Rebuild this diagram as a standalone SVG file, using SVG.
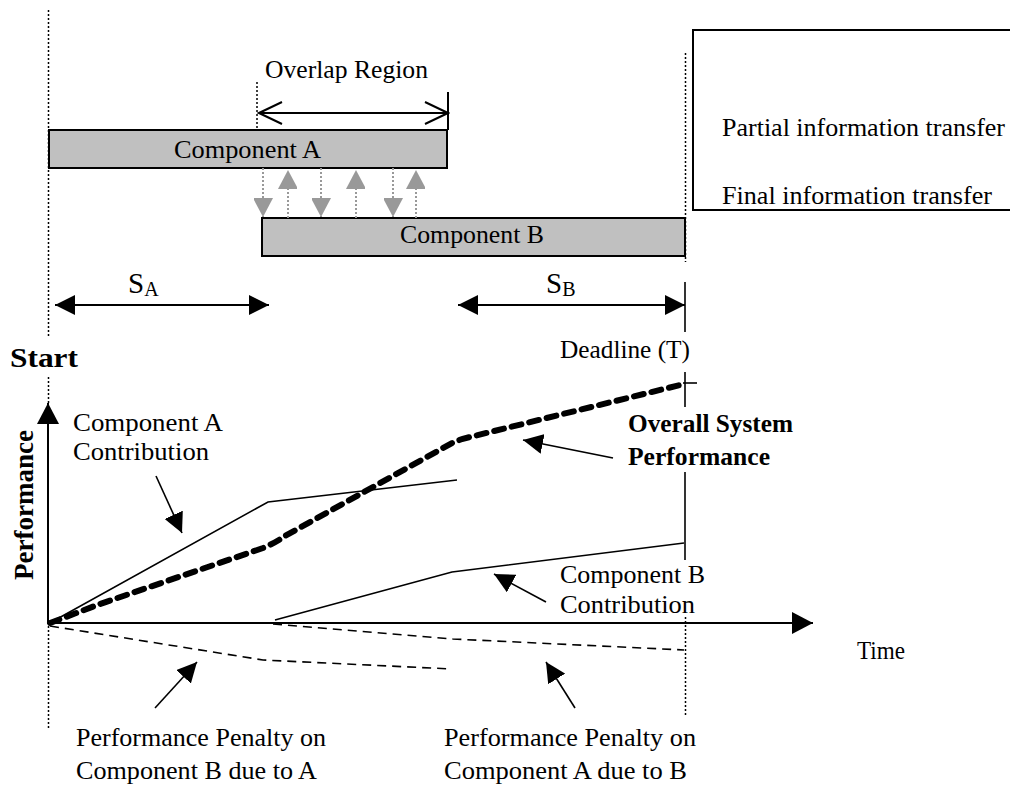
<svg xmlns="http://www.w3.org/2000/svg" width="1010" height="791" viewBox="0 0 1010 791" font-family="'Liberation Serif', 'Times New Roman', Times, serif">
<style>
text{font-family:'Liberation Serif','Times New Roman',Times,serif;font-size:26px;fill:#000}
.b{font-weight:bold}
.box{fill:#c0c0c0;stroke:#000;stroke-width:2}
.dot{stroke:#000;stroke-width:1.5;stroke-dasharray:2 2;fill:none}
.ln{stroke:#000;stroke-width:1.6;fill:none}
.ax{stroke:#000;stroke-width:2;fill:none}
.pen{stroke:#000;stroke-width:1.6;fill:none;stroke-dasharray:9 6}
.gr{stroke:#999;stroke-width:2;stroke-dasharray:2 2;fill:none}
.sys{stroke:#000;stroke-width:6;fill:none;stroke-linecap:round;stroke-dasharray:10 8}
</style>
<defs>
<marker id="ah" viewBox="0 0 20 20" refX="20" refY="10" markerWidth="20" markerHeight="20" markerUnits="userSpaceOnUse" orient="auto-start-reverse"><path d="M0,0 L20,10 L0,20 z" fill="#000"/></marker>
<marker id="axh" viewBox="0 0 21 22" refX="21" refY="11" markerWidth="21" markerHeight="22" markerUnits="userSpaceOnUse" orient="auto"><path d="M0,0 L21,11 L0,22 z" fill="#000"/></marker>
<marker id="oh" viewBox="-2 -2 27 26" refX="23" refY="11" markerWidth="27" markerHeight="26" markerUnits="userSpaceOnUse" orient="auto-start-reverse"><path d="M0,0 L23,11 L0,22" fill="none" stroke="#000" stroke-width="2"/></marker>
<marker id="gh" viewBox="0 0 20 19" refX="19" refY="10" markerWidth="20" markerHeight="19" markerUnits="userSpaceOnUse" orient="auto"><path d="M0,0 L19,10 L0,20 z" fill="#999"/></marker>
</defs>

<g id="guides">
<line class="dot" x1="48.5" y1="10" x2="48.5" y2="338"/>
<line class="dot" x1="48.5" y1="377" x2="48.5" y2="403"/>
<line class="dot" x1="48.5" y1="626" x2="48.5" y2="728"/>
<line class="dot" x1="685.5" y1="53" x2="685.5" y2="262"/>
<line class="dot" x1="685.5" y1="617" x2="685.5" y2="715"/>
<line class="dot" x1="257" y1="82" x2="257" y2="130"/>
<line class="ax" x1="448" y1="92" x2="448" y2="130"/>
<line class="ln" x1="685" y1="282" x2="685" y2="332"/>
<line class="ln" x1="685" y1="372" x2="685" y2="407"/>
<line class="ln" x1="683" y1="383" x2="697" y2="383"/>
<line class="ln" x1="685" y1="472" x2="685" y2="560"/>
</g>

<g id="componentA">
<rect class="box" x="49" y="130" width="398" height="38"/>
<text x="174" y="158" textLength="147" lengthAdjust="spacingAndGlyphs">Component A</text>
</g>
<g id="componentB">
<rect class="box" x="262" y="218" width="423" height="38"/>
<text x="400" y="243" textLength="144" lengthAdjust="spacingAndGlyphs">Component B</text>
</g>

<g id="legend">
<rect x="693" y="30" width="330" height="180" fill="none" stroke="#000" stroke-width="2"/>
<text x="722" y="136" textLength="283" lengthAdjust="spacingAndGlyphs">Partial information transfer</text>
<text x="722" y="204" textLength="270" lengthAdjust="spacingAndGlyphs">Final information transfer</text>
</g>

<g id="connectors">
<line x1="259" y1="113" x2="448" y2="113" stroke="#000" stroke-width="2" marker-start="url(#oh)" marker-end="url(#oh)"/>
<line class="gr" x1="263" y1="168" x2="263" y2="217" marker-end="url(#gh)"/>
<line class="gr" x1="288" y1="218" x2="288" y2="170" marker-end="url(#gh)"/>
<line class="gr" x1="321" y1="168" x2="321" y2="217" marker-end="url(#gh)"/>
<line class="gr" x1="356" y1="218" x2="356" y2="170" marker-end="url(#gh)"/>
<line class="gr" x1="393" y1="168" x2="393" y2="217" marker-end="url(#gh)"/>
<line class="gr" x1="416" y1="218" x2="416" y2="170" marker-end="url(#gh)"/>
<line x1="55" y1="305" x2="269" y2="305" stroke="#000" stroke-width="2" marker-start="url(#ah)" marker-end="url(#ah)"/>
<line x1="458" y1="305" x2="685" y2="305" stroke="#000" stroke-width="2" marker-start="url(#ah)" marker-end="url(#ah)"/>
<line class="ax" x1="48" y1="624" x2="48" y2="403" marker-end="url(#axh)"/>
<line class="ax" x1="48" y1="623" x2="813" y2="623" marker-end="url(#axh)"/>
<polyline class="ln" points="48,624 268,502 457,480"/>
<polyline class="ln" points="275,620 452,572 684,543"/>
<polyline class="pen" points="50,626 263,660 452,669"/>
<polyline class="pen" points="273,624 453,639 684,650"/>
<path class="sys" d="M50,623 L100,604 L263,548 Q275,543 285,536 L452,443 L462,439 L684,384"/>
<line class="ln" x1="156" y1="476" x2="182" y2="533" stroke-width="2" marker-end="url(#ah)"/>
<line class="ln" x1="613" y1="458" x2="523" y2="440" stroke-width="2" marker-end="url(#ah)"/>
<line class="ln" x1="546" y1="602" x2="494" y2="574" stroke-width="2" marker-end="url(#ah)"/>
<line class="ln" x1="155" y1="708" x2="197" y2="662" stroke-width="2" marker-end="url(#ah)"/>
<line class="ln" x1="575" y1="708" x2="546" y2="662" stroke-width="2" marker-end="url(#ah)"/>
</g>

<g id="labels">
<text x="265" y="78" textLength="163" lengthAdjust="spacingAndGlyphs">Overlap Region</text>
<text x="128" y="293" style="font-size:29px">S<tspan dy="3" style="font-size:20px">A</tspan></text>
<text x="546" y="293" style="font-size:29px">S<tspan dy="3" style="font-size:20px">B</tspan></text>
<text class="b" x="10" y="367" style="font-size:28px" textLength="68" lengthAdjust="spacingAndGlyphs">Start</text>
<text x="560" y="358" textLength="130" lengthAdjust="spacingAndGlyphs">Deadline (T)</text>
<text class="b" transform="translate(33,505) rotate(-90)" text-anchor="middle" style="font-size:27px" textLength="150" lengthAdjust="spacingAndGlyphs">Performance</text>
<text x="73" y="431" textLength="150" lengthAdjust="spacingAndGlyphs">Component A</text>
<text x="73" y="460" textLength="136" lengthAdjust="spacingAndGlyphs">Contribution</text>
<text class="b" x="628" y="432" textLength="165" lengthAdjust="spacingAndGlyphs">Overall System</text>
<text class="b" x="628" y="465" textLength="142" lengthAdjust="spacingAndGlyphs">Performance</text>
<text x="560" y="583" textLength="145" lengthAdjust="spacingAndGlyphs">Component B</text>
<text x="560" y="613" textLength="135" lengthAdjust="spacingAndGlyphs">Contribution</text>
<text x="857" y="659" textLength="48" lengthAdjust="spacingAndGlyphs">Time</text>
<text x="76" y="746" textLength="250" lengthAdjust="spacingAndGlyphs">Performance Penalty on</text>
<text x="76" y="779" textLength="241" lengthAdjust="spacingAndGlyphs">Component B due to A</text>
<text x="444" y="746" textLength="252" lengthAdjust="spacingAndGlyphs">Performance Penalty on</text>
<text x="444" y="779" textLength="243" lengthAdjust="spacingAndGlyphs">Component A due to B</text>
</g>
</svg>
